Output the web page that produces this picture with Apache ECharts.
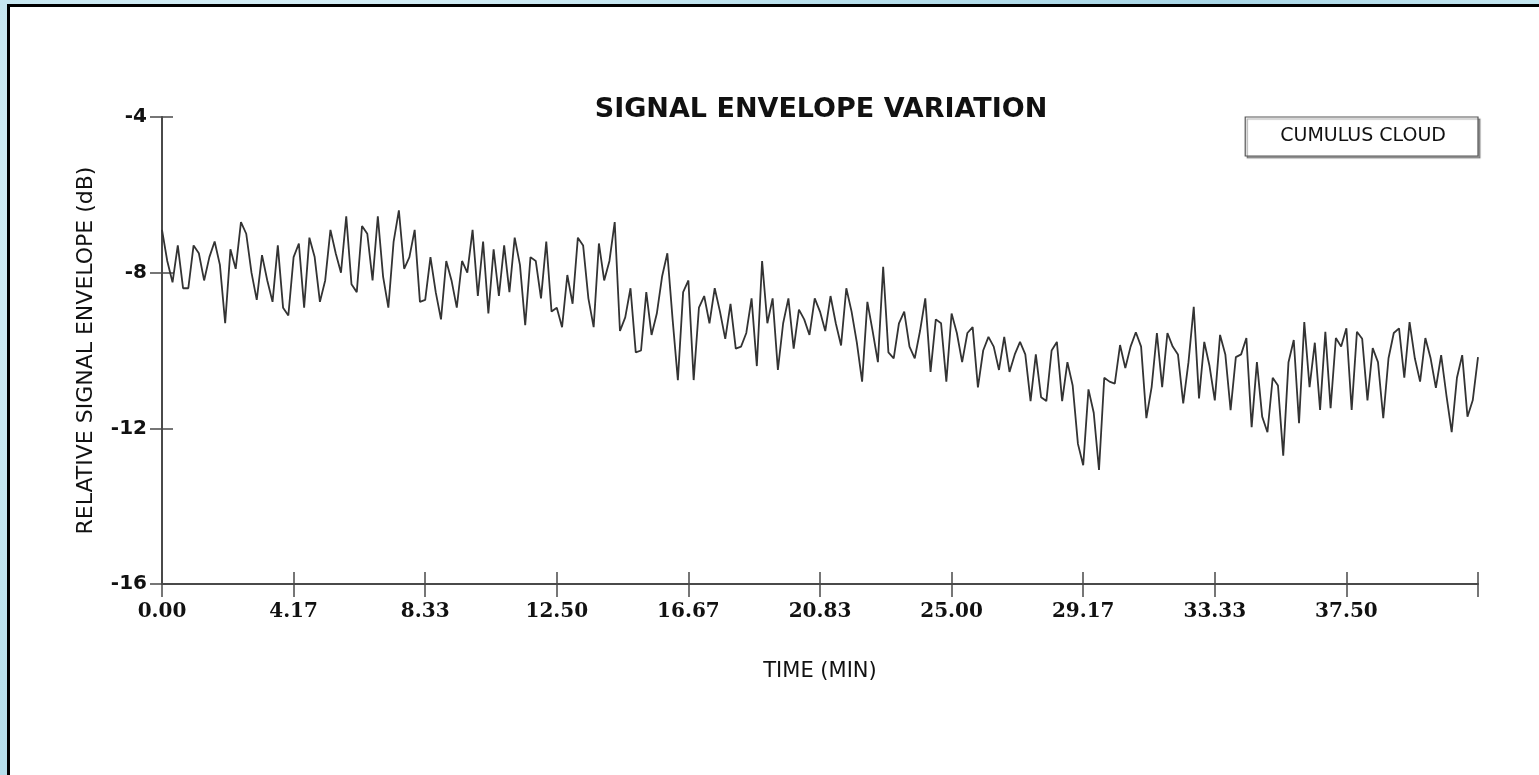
<!DOCTYPE html>
<html>
<head>
<meta charset="utf-8">
<script src="https://cdn.jsdelivr.net/npm/echarts@6/dist/echarts.min.js"></script>
<style>
  html, body { margin: 0; padding: 0; width: 1539px; height: 775px; overflow: hidden; }
  body {
    background: radial-gradient(circle at 20% 30%, #e6f6fb 0%, #b9e0ec 40%, #a8d6e6 70%, #cdebf3 100%);
  }
  #panel {
    position: absolute; left: 7px; top: 4px; width: 1545px; height: 790px;
    background: #ffffff; border-left: 3px solid #000; border-top: 3px solid #000;
  }
  #chart { position: absolute; left: 0; top: 0; width: 1539px; height: 775px; }
</style>
</head>
<body>
<div id="panel"></div>
<div id="chart"></div>
<script>
// ---- data ----
const chartTitle = 'SIGNAL ENVELOPE VARIATION';
const seriesName = 'CUMULUS CLOUD';
const xAxisTitle = 'TIME (MIN)';
const yAxisTitle = 'RELATIVE SIGNAL ENVELOPE (dB)';
const samplesPerMinute = 6;          // one sample every 10 s
const xTickLabels = ['0.00','4.17','8.33','12.50','16.67','20.83','25.00','29.17','33.33','37.50',''];
const yTickValues = [-16, -12, -8, -4];
// relative signal envelope in dB, one value per sample
const envelopeDb = [
  -6.9,-7.7,-8.25,-7.3,-8.4,-8.4,-7.3,-7.5,-8.2,-7.6,
  -7.2,-7.8,-9.3,-7.4,-7.9,-6.7,-7.0,-8.0,-8.7,-7.55,
  -8.2,-8.75,-7.3,-8.9,-9.1,-7.6,-7.25,-8.9,-7.1,-7.6,
  -8.75,-8.2,-6.9,-7.5,-8.0,-6.55,-8.3,-8.5,-6.8,-7.0,
  -8.2,-6.55,-8.1,-8.9,-7.2,-6.4,-7.9,-7.6,-6.9,-8.75,
  -8.7,-7.6,-8.5,-9.2,-7.7,-8.2,-8.9,-7.7,-8.0,-6.9,
  -8.6,-7.2,-9.05,-7.4,-8.6,-7.3,-8.5,-7.1,-7.8,-9.35,
  -7.6,-7.7,-8.66,-7.2,-9.0,-8.9,-9.4,-8.06,-8.8,-7.1,
  -7.3,-8.66,-9.4,-7.25,-8.2,-7.7,-6.7,-9.5,-9.15,-8.4,
  -10.05,-10.0,-8.5,-9.6,-9.05,-8.1,-7.5,-9.2,-10.76,-8.5,
  -8.2,-10.76,-8.9,-8.6,-9.3,-8.4,-9.0,-9.7,-8.8,-9.95,
  -9.9,-9.55,-8.66,-10.4,-7.7,-9.3,-8.66,-10.5,-9.3,-8.66,
  -9.95,-8.95,-9.2,-9.6,-8.66,-9.0,-9.5,-8.6,-9.3,-9.87,
  -8.4,-9.0,-9.8,-10.8,-8.75,-9.5,-10.3,-7.85,-10.05,-10.2,
  -9.3,-9.0,-9.9,-10.2,-9.5,-8.66,-10.55,-9.2,-9.3,-10.8,
  -9.05,-9.55,-10.3,-9.55,-9.4,-10.95,-10.0,-9.65,-9.9,-10.5,
  -9.65,-10.55,-10.1,-9.78,-10.1,-11.3,-10.1,-11.2,-11.3,-10.0,
  -9.78,-11.3,-10.3,-10.9,-12.4,-12.95,-11.0,-11.6,-13.07,-10.7,
  -10.8,-10.85,-9.86,-10.45,-9.9,-9.53,-9.9,-11.74,-10.94,-9.55,
  -10.94,-9.55,-9.9,-10.1,-11.36,-10.3,-8.88,-11.23,-9.78,-10.4,
  -11.28,-9.6,-10.1,-11.53,-10.17,-10.1,-9.68,-11.97,-10.3,-11.7,
  -12.1,-10.7,-10.9,-12.7,-10.3,-9.73,-11.87,-9.27,-10.94,-9.8,
  -11.53,-9.52,-11.48,-9.68,-9.9,-9.43,-11.53,-9.52,-9.7,-11.28,
  -9.94,-10.3,-11.74,-10.2,-9.55,-9.43,-10.7,-9.27,-10.2,-10.8,
  -9.68,-10.2,-10.96,-10.12,-11.15,-12.1,-10.7,-10.12,-11.7,-11.28,
  -10.17
];

// ---- build chart ----
const points = envelopeDb.map((v, i) => [i / samplesPerMinute, v]);
const xMax = (envelopeDb.length - 1) / samplesPerMinute;
const xInterval = xMax / (xTickLabels.length - 1);
const yMin = yTickValues[0], yMax = yTickValues[yTickValues.length - 1];
const yInterval = yTickValues[1] - yTickValues[0];

const axisColor = '#4a4a4a';
const chart = echarts.init(document.getElementById('chart'), null, { renderer: 'canvas' });

const xBase = { type: 'value', min: 0, max: xMax, interval: xInterval, splitLine: { show: false } };
const yBase = { type: 'value', min: yMin, max: yMax, interval: yInterval, splitLine: { show: false } };

chart.setOption({
  backgroundColor: 'transparent',
  animation: false,
  title: {
    text: chartTitle,
    left: 821, top: 96, padding: 0, textAlign: 'center',
    textStyle: { fontFamily: 'DejaVu Sans', fontWeight: 'bold', fontSize: 27, color: '#111' }
  },
  legend: {
    data: [{ name: seriesName, icon: 'none' }],
    right: 61, top: 117,
    itemWidth: 0, itemHeight: 0, itemGap: 0,
    padding: [10, 32, 10, 30],
    borderColor: '#555', borderWidth: 1.2,
    backgroundColor: '#fff',
    shadowColor: 'rgba(0,0,0,0.35)', shadowOffsetX: 2, shadowOffsetY: 2, shadowBlur: 1,
    selectedMode: false,
    textStyle: { fontFamily: 'DejaVu Sans', fontSize: 19, color: '#111' }
  },
  grid: { left: 162, right: 61, top: 117, bottom: 191, containLabel: false, outerBoundsMode: 'none' },
  xAxis: [
    Object.assign({}, xBase, {
      position: 'bottom',
      name: xAxisTitle, nameLocation: 'middle', nameGap: 77,
      nameTextStyle: { fontFamily: 'DejaVu Sans', fontSize: 21, color: '#111' },
      axisLine: { show: true, lineStyle: { color: axisColor, width: 2 } },
      axisTick: { show: true, inside: false, length: 13, lineStyle: { color: axisColor, width: 1.5 } },
      axisLabel: {
        show: true, margin: 18,
        fontFamily: 'DejaVu Serif', fontWeight: 'bold', fontSize: 20, color: '#111',
        formatter: v => xTickLabels[Math.round(v / xInterval)] ?? ''
      }
    }),
    Object.assign({}, xBase, {
      position: 'bottom',
      axisLine: { show: false },
      axisTick: { show: true, inside: true, length: 12, lineStyle: { color: axisColor, width: 1.5 } },
      axisLabel: { show: false }
    })
  ],
  yAxis: [
    Object.assign({}, yBase, {
      position: 'left',
      name: yAxisTitle, nameLocation: 'middle', nameGap: 65, nameRotate: 90,
      nameTextStyle: { fontFamily: 'DejaVu Sans', fontSize: 22, color: '#111' },
      axisLine: { show: true, lineStyle: { color: axisColor, width: 2 } },
      axisTick: { show: true, inside: false, length: 12, lineStyle: { color: axisColor, width: 1.5 } },
      axisLabel: {
        show: true, margin: 15,
        fontFamily: 'DejaVu Sans', fontWeight: 'bold', fontSize: 20, color: '#111',
        formatter: v => String(v)
      }
    }),
    Object.assign({}, yBase, {
      position: 'left',
      axisLine: { show: false },
      axisTick: { show: true, inside: true, length: 11, lineStyle: { color: axisColor, width: 1.5 } },
      axisLabel: { show: false }
    })
  ],
  series: [{
    name: seriesName,
    type: 'line',
    xAxisIndex: 0, yAxisIndex: 0,
    data: points,
    showSymbol: false,
    symbol: 'none',
    lineStyle: { color: '#333333', width: 1.8 },
    itemStyle: { color: '#333333' }
  }]
});
</script>
</body>
</html>
